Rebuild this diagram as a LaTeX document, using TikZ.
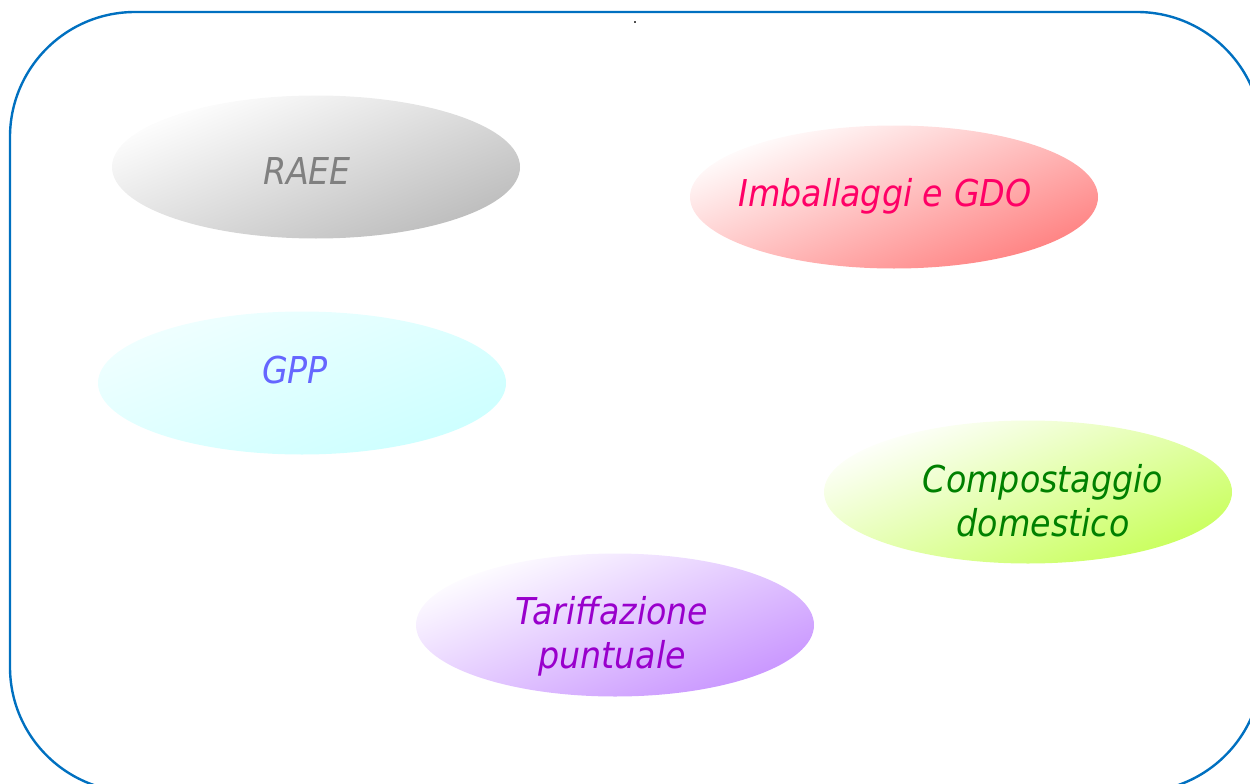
\documentclass[tikz,border=0pt]{standalone}
\usepackage{fontspec}
\usetikzlibrary{shapes.geometric}
\newfontfamily\bubblefont{DejaVu Sans Condensed}
\definecolor{frameblue}{RGB}{0,112,192}
\definecolor{raeegray}{RGB}{188,188,188}
\definecolor{raeetext}{RGB}{128,128,128}
\definecolor{gdored}{RGB}{255,128,128}
\definecolor{gdotext}{RGB}{255,0,102}
\definecolor{gppcyan}{RGB}{204,255,255}
\definecolor{gpplight}{RGB}{240,255,255}
\definecolor{gpptext}{RGB}{102,102,255}
\definecolor{compgreen}{RGB}{200,255,90}
\definecolor{comptext}{RGB}{0,128,0}
\definecolor{tarviolet}{RGB}{200,148,255}
\definecolor{tartext}{RGB}{153,0,204}
\tikzset{
  bubble/.style={ellipse, minimum width=408pt, minimum height=143pt, inner sep=0pt,
    draw=none},
  diagonal/.style={shading angle=22},
  bubbletext/.style={font=\bubblefont\itshape\fontsize{37}{44}\selectfont,
    align=center, inner sep=0pt}
}
\begin{document}
\begin{tikzpicture}[x=1pt,y=-1pt]
  \useasboundingbox (0,0) rectangle (1250,784);
  % outer rounded frame
  \draw[frameblue, line width=2.4pt, rounded corners=125pt]
    (10,12) rectangle (1262,792);
  \node[font=\fontsize{24}{26}\selectfont, inner sep=0pt] (dot) at (635,23) {.};
  % topic bubbles
  \node[bubble, top color=white, bottom color=raeegray, diagonal] (raee) at (316,167) {};
  \node[bubble, top color=white, bottom color=gdored, diagonal] (gdo) at (894,197) {};
  \node[bubble, top color=gpplight, bottom color=gppcyan, diagonal] (gpp) at (302,383) {};
  \node[bubble, top color=white, bottom color=compgreen, diagonal] (comp) at (1028,492) {};
  \node[bubble, minimum width=398pt, top color=white, bottom color=tarviolet, diagonal] (tar) at (615,625) {};
  % bubble labels
  \node[bubbletext, text=raeetext] (raeelabel) at (307,171) {RAEE};
  \node[bubbletext, text=gdotext] (gdolabel) at (885,196) {Imballaggi e GDO};
  \node[bubbletext, text=gpptext] (gpplabel) at (295,370) {GPP};
  \node[bubbletext, text=comptext] (complabel) at (1043,501) {Compostaggio\\domestico};
  \node[bubbletext, text=tartext] (tarlabel) at (612,636) {Tariffazione\\puntuale};
\end{tikzpicture}
\end{document}
